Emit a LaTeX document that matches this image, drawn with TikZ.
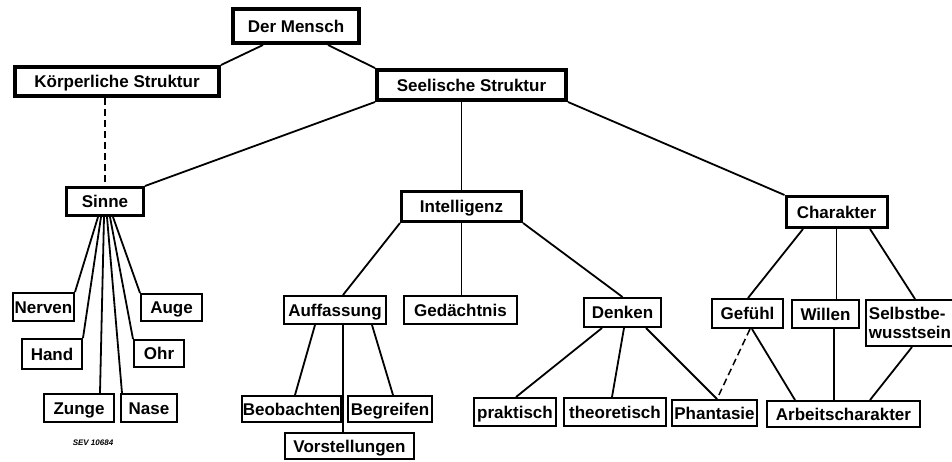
\documentclass[tikz,border=0pt]{standalone}
\usepackage{fontspec}
\setmainfont{Liberation Sans}
\usetikzlibrary{positioning}
\newcommand{\boxfont}{\fontsize{17}{19}\selectfont\bfseries}

\begin{document}
\begin{tikzpicture}[x=1pt,y=-1pt,
  leaf/.style={draw,line width=2pt,inner sep=1pt,font=\boxfont,
    text height=13pt,text depth=1pt},
  midbox/.style={leaf,line width=3pt},
  topbox/.style={leaf,line width=4pt},
  link/.style={line width=1.8pt},
  dashlink/.style={line width=1.5pt,dash pattern=on 7pt off 4pt}]
 \useasboundingbox (0,0) rectangle (952,461);

 % top levels
 \node[topbox,minimum width=126,minimum height=34] (mensch) at (296,26) {Der Mensch};
 \node[topbox,minimum width=204,minimum height=29] (koerper) at (117,81.5) {Körperliche Struktur};
 \node[topbox,minimum width=189,minimum height=30] (seele) at (471.5,85) {Seelische Struktur};
 \node[midbox,minimum width=77,minimum height=28] (sinne) at (105,201.5) {Sinne};
 \node[midbox,minimum width=120,minimum height=30] (intell) at (461.5,206.5) {Intelligenz};
 \node[midbox,minimum width=101,minimum height=31] (charakter) at (836.5,212) {Charakter};

 % Sinne
 \node[leaf,minimum width=61,minimum height=28] (nerven) at (43.5,307) {Nerven};
 \node[leaf,minimum width=61,minimum height=27] (auge) at (171.5,307.5) {Auge};
 \node[leaf,minimum width=60,minimum height=30] (hand) at (52,354) {Hand};
 \node[leaf,minimum width=50,minimum height=27] (ohr) at (159,353.5) {Ohr};
 \node[leaf,minimum width=70,minimum height=28] (zunge) at (79,408) {Zunge};
 \node[leaf,minimum width=56,minimum height=28] (nase) at (149,408) {Nase};

 % Intelligenz
 \node[leaf,minimum width=102,minimum height=28] (auff) at (335,310) {Auffassung};
 \node[leaf,minimum width=113,minimum height=28] (gedaecht) at (460.5,310) {Gedächtnis};
 \node[leaf,minimum width=77,minimum height=29] (denken) at (622.5,312.5) {Denken};
 \node[leaf,minimum width=95,minimum height=26] (beob) at (291.5,409) {Beobachten};
 \node[leaf,minimum width=84,minimum height=26] (begr) at (390,409) {Begreifen};
 \node[leaf,minimum width=129,minimum height=26] (vorst) at (349.5,446) {Vorstellungen};
 \node[leaf,minimum width=82,minimum height=28] (prakt) at (515,412) {praktisch};
 \node[leaf,minimum width=102,minimum height=28] (theo) at (615,412) {theoretisch};
 \node[leaf,minimum width=85,minimum height=26] (phant) at (714.5,413) {Phantasie};

 % Charakter
 \node[leaf,minimum width=71,minimum height=29] (gefuehl) at (747.5,313.5) {Gefühl};
 \node[leaf,minimum width=67,minimum height=28] (willen) at (825.5,314) {Willen};
 \node[leaf,minimum width=81,minimum height=46,align=left,inner sep=3pt,
   text height=,text depth=] (selbst) at (910,323) {Selbstbe-\\wusstsein};
 \node[leaf,minimum width=153,minimum height=26] (arbeit) at (843.5,414) {Arbeitscharakter};

 % label
 \node[font=\fontsize{8}{9}\selectfont\itshape\bfseries] (sev) at (93,443) {SEV 10684};

 % connectors
 \foreach \a/\sa/\b/\sb in {mensch.south/-33/koerper.north east/0,
   mensch.south/32/seele.north west/0,
   seele.south west/0/sinne.north east/0,
   seele.south/-10/intell.north/0,
   seele.south east/0/charakter.north west/0,
   sinne.south/-7/nerven.north east/0,
   sinne.south/-4/hand.north east/0,
   sinne.south/-1/zunge.north/21,
   sinne.south/2/nase.north west/2,
   sinne.south/5/ohr.north west/0,
   sinne.south/8/auge.north west/0,
   intell.south west/0/auff.north/8,
   intell.south/0/gedaecht.north/1,
   intell.south east/0/denken.north/0,
   auff.south/-20/beob.north/3.5,
   auff.south/8/vorst.north/-6.5,
   auff.south/37/begr.north/3,
   denken.south/-20.5/prakt.north/1,
   denken.south/1.5/theo.north/-3,
   denken.south/23.5/phant.north/2.5,
   charakter.south/-33.5/gefuehl.north/0.5,
   charakter.south/0/willen.north/11,
   charakter.south/33.5/selbst.north/5,
   gefuehl.south/4.5/arbeit.north/-48.5,
   willen.south/8.5/arbeit.north/-9.5,
   selbst.south/2/arbeit.north/26.5} {
  \draw[link] ([xshift=\sa]\a) -- ([xshift=\sb]\b);
 };

 % dashed links
 \draw[dashlink] ([xshift=-12]koerper.south) -- (sinne.north);
 \draw[dashlink] ([xshift=2.5]gefuehl.south) -- ([xshift=2.5]phant.north);
\end{tikzpicture}
\end{document}
